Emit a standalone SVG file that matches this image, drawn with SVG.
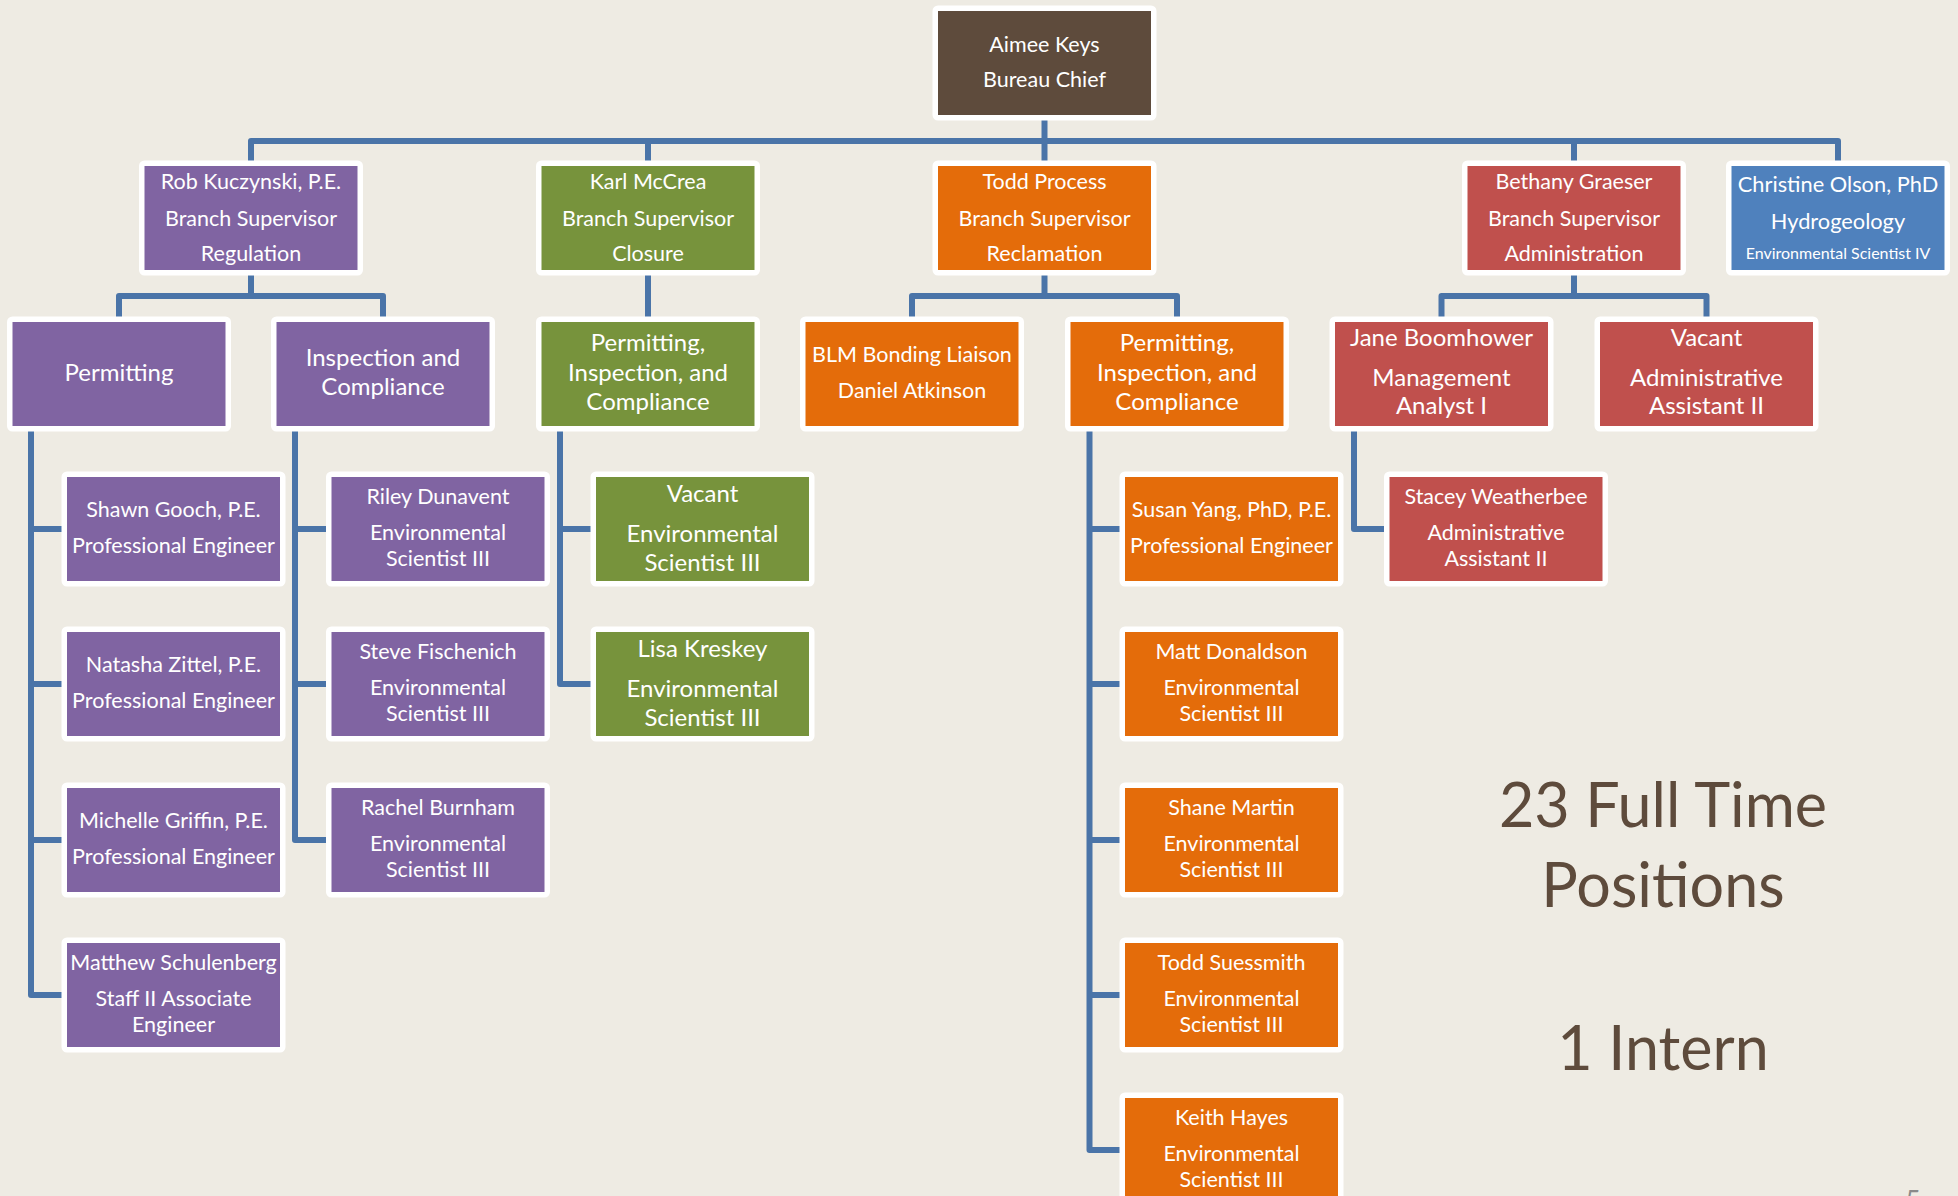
<svg xmlns="http://www.w3.org/2000/svg" width="1958" height="1196" viewBox="0 0 1958 1196">
<style>
.bg{fill:#eeebe3}
.box{stroke:#ffffff;stroke-width:11;paint-order:stroke;stroke-linejoin:round}
.brown{fill:#5e4b3c}
.purple{fill:#8064a2}
.green{fill:#77933c}
.orange{fill:#e46c0a}
.red{fill:#c0504d}
.blue{fill:#4f81bd}
.conn path{fill:none;stroke:#4a74a8;stroke-width:6;stroke-linejoin:round;stroke-linecap:butt}
text{font-family:Lato,"Open Sans","Liberation Sans",sans-serif;fill:#ffffff;text-anchor:middle}
.t{font-size:21.5px}
.tl{font-size:24px}
.tc{font-size:21.8px}
.ts{font-size:16px}
.big{font-size:61px;fill:#5e4b3c}
.pg{font-size:26px;fill:#8a8a8a}
</style>
<rect class="bg" x="0" y="0" width="1958" height="1196"/>

<g id="connectors" class="conn">
<path d="M1044.5 115 V166"/>
<path d="M251 166 V141 H1838 V166"/>
<path d="M648 141 V166"/>
<path d="M1574 141 V166"/>
<path d="M251 270 V296"/>
<path d="M119 322 V296 H383 V322"/>
<path d="M648 270 V322"/>
<path d="M1044.5 270 V296"/>
<path d="M912 322 V296 H1177 V322"/>
<path d="M1574 270 V296"/>
<path d="M1441.5 322 V296 H1706.5 V322"/>
<path d="M31 426 V995 H67"/>
<path d="M31 529 H67"/>
<path d="M31 684 H67"/>
<path d="M31 840 H67"/>
<path d="M295 426 V840 H331.5"/>
<path d="M295 529 H331.5"/>
<path d="M295 684 H331.5"/>
<path d="M560 426 V684 H596"/>
<path d="M560 529 H596"/>
<path d="M1089.5 426 V1150 H1125"/>
<path d="M1089.5 529 H1125"/>
<path d="M1089.5 684 H1125"/>
<path d="M1089.5 840 H1125"/>
<path d="M1089.5 995 H1125"/>
<path d="M1354 426 V529 H1389.5"/>
</g>

<g id="aimee"><rect class="box brown" x="938" y="11" width="213" height="104"/>
<text class="t" x="1044.5" y="52.3">Aimee Keys</text><text class="t" x="1044.5" y="87.3">Bureau Chief</text></g>

<g id="rob"><rect class="box purple" x="144.5" y="166" width="213" height="104"/>
<text class="t" x="251" y="189.3">Rob Kuczynski, P.E.</text><text class="t" x="251" y="225.5">Branch Supervisor</text><text class="t" x="251" y="261">Regulation</text></g>

<g id="karl"><rect class="box green" x="541.5" y="166" width="213" height="104"/>
<text class="t" x="648" y="189.3">Karl McCrea</text><text class="t" x="648" y="225.5">Branch Supervisor</text><text class="t" x="648" y="261">Closure</text></g>

<g id="todd"><rect class="box orange" x="938" y="166" width="213" height="104"/>
<text class="t" x="1044.5" y="189.3">Todd Process</text><text class="t" x="1044.5" y="225.5">Branch Supervisor</text><text class="t" x="1044.5" y="261">Reclamation</text></g>

<g id="bethany"><rect class="box red" x="1467.5" y="166" width="213" height="104"/>
<text class="t" x="1574" y="189.3">Bethany Graeser</text><text class="t" x="1574" y="225.5">Branch Supervisor</text><text class="t" x="1574" y="261">Administration</text></g>

<g id="christine"><rect class="box blue" x="1731.5" y="166" width="213" height="104"/>
<text class="tc" x="1838" y="192.3">Christine Olson, PhD</text><text class="tc" x="1838" y="228.7">Hydrogeology</text><text class="ts" x="1838" y="259">Environmental Scientist IV</text></g>

<g id="permitting"><rect class="box purple" x="12.5" y="322" width="213" height="104"/>
<text class="tl" x="119" y="381">Permitting</text></g>

<g id="inspection"><rect class="box purple" x="276.5" y="322" width="213" height="104"/>
<text class="tl" x="383" y="366">Inspection and</text><text class="tl" x="383" y="395">Compliance</text></g>

<g id="pic-closure"><rect class="box green" x="541.5" y="322" width="213" height="104"/>
<text class="tl" x="648" y="351">Permitting,</text><text class="tl" x="648" y="380.8">Inspection, and</text><text class="tl" x="648" y="410.2">Compliance</text></g>

<g id="blm"><rect class="box orange" x="805.5" y="322" width="213" height="104"/>
<text class="t" x="912" y="362">BLM Bonding Liaison</text><text class="t" x="912" y="398.3">Daniel Atkinson</text></g>

<g id="pic-reclamation"><rect class="box orange" x="1070.5" y="322" width="213" height="104"/>
<text class="tl" x="1177" y="351">Permitting,</text><text class="tl" x="1177" y="380.8">Inspection, and</text><text class="tl" x="1177" y="410.2">Compliance</text></g>

<g id="jane"><rect class="box red" x="1335" y="322" width="213" height="104"/>
<text class="tl" x="1441.5" y="345.7">Jane Boomhower</text><text class="tl" x="1441.5" y="385.7">Management</text><text class="tl" x="1441.5" y="414.3">Analyst I</text></g>

<g id="vacant-admin"><rect class="box red" x="1600" y="322" width="213" height="104"/>
<text class="tl" x="1706.5" y="346">Vacant</text><text class="tl" x="1706.5" y="386">Administrative</text><text class="tl" x="1706.5" y="414.3">Assistant II</text></g>

<g id="shawn"><rect class="box purple" x="67" y="477" width="213" height="104"/>
<text class="t" x="173.5" y="517">Shawn Gooch, P.E.</text><text class="t" x="173.5" y="553">Professional Engineer</text></g>

<g id="natasha"><rect class="box purple" x="67" y="632" width="213" height="104"/>
<text class="t" x="173.5" y="672">Natasha Zittel, P.E.</text><text class="t" x="173.5" y="708">Professional Engineer</text></g>

<g id="michelle"><rect class="box purple" x="67" y="788" width="213" height="104"/>
<text class="t" x="173.5" y="828">Michelle Griffin, P.E.</text><text class="t" x="173.5" y="864">Professional Engineer</text></g>

<g id="matthew"><rect class="box purple" x="67" y="943" width="213" height="104"/>
<text class="t" x="173.5" y="970">Matthew Schulenberg</text><text class="t" x="173.5" y="1005.5">Staff II Associate</text><text class="t" x="173.5" y="1031.5">Engineer</text></g>

<g id="riley"><rect class="box purple" x="331.5" y="477" width="213" height="104"/>
<text class="t" x="438" y="504">Riley Dunavent</text><text class="t" x="438" y="539.5">Environmental</text><text class="t" x="438" y="565.5">Scientist III</text></g>

<g id="steve"><rect class="box purple" x="331.5" y="632" width="213" height="104"/>
<text class="t" x="438" y="659">Steve Fischenich</text><text class="t" x="438" y="694.5">Environmental</text><text class="t" x="438" y="720.5">Scientist III</text></g>

<g id="rachel"><rect class="box purple" x="331.5" y="788" width="213" height="104"/>
<text class="t" x="438" y="815">Rachel Burnham</text><text class="t" x="438" y="850.5">Environmental</text><text class="t" x="438" y="876.5">Scientist III</text></g>

<g id="vacant-closure"><rect class="box green" x="596" y="477" width="213" height="104"/>
<text class="tl" x="702.5" y="501.5">Vacant</text><text class="tl" x="702.5" y="542">Environmental</text><text class="tl" x="702.5" y="571">Scientist III</text></g>

<g id="lisa"><rect class="box green" x="596" y="632" width="213" height="104"/>
<text class="tl" x="702.5" y="656.5">Lisa Kreskey</text><text class="tl" x="702.5" y="697">Environmental</text><text class="tl" x="702.5" y="726">Scientist III</text></g>

<g id="susan"><rect class="box orange" x="1125" y="477" width="213" height="104"/>
<text class="t" x="1231.5" y="517">Susan Yang, PhD, P.E.</text><text class="t" x="1231.5" y="553">Professional Engineer</text></g>

<g id="matt"><rect class="box orange" x="1125" y="632" width="213" height="104"/>
<text class="t" x="1231.5" y="659">Matt Donaldson</text><text class="t" x="1231.5" y="694.5">Environmental</text><text class="t" x="1231.5" y="720.5">Scientist III</text></g>

<g id="shane"><rect class="box orange" x="1125" y="788" width="213" height="104"/>
<text class="t" x="1231.5" y="815">Shane Martin</text><text class="t" x="1231.5" y="850.5">Environmental</text><text class="t" x="1231.5" y="876.5">Scientist III</text></g>

<g id="todd-suessmith"><rect class="box orange" x="1125" y="943" width="213" height="104"/>
<text class="t" x="1231.5" y="970">Todd Suessmith</text><text class="t" x="1231.5" y="1005.5">Environmental</text><text class="t" x="1231.5" y="1031.5">Scientist III</text></g>

<g id="keith"><rect class="box orange" x="1125" y="1098" width="213" height="104"/>
<text class="t" x="1231.5" y="1125">Keith Hayes</text><text class="t" x="1231.5" y="1160.5">Environmental</text><text class="t" x="1231.5" y="1186.5">Scientist III</text></g>

<g id="stacey"><rect class="box red" x="1389.5" y="477" width="213" height="104"/>
<text class="t" x="1496" y="504">Stacey Weatherbee</text><text class="t" x="1496" y="539.5">Administrative</text><text class="t" x="1496" y="565.5">Assistant II</text></g>

<g id="summary">
<text class="big" x="1663" y="827">23 Full Time</text>
<text class="big" x="1663" y="907">Positions</text>
<text class="big" x="1663" y="1070">1 Intern</text>
</g>
<text class="pg" x="1913" y="1210">5</text>
</svg>
